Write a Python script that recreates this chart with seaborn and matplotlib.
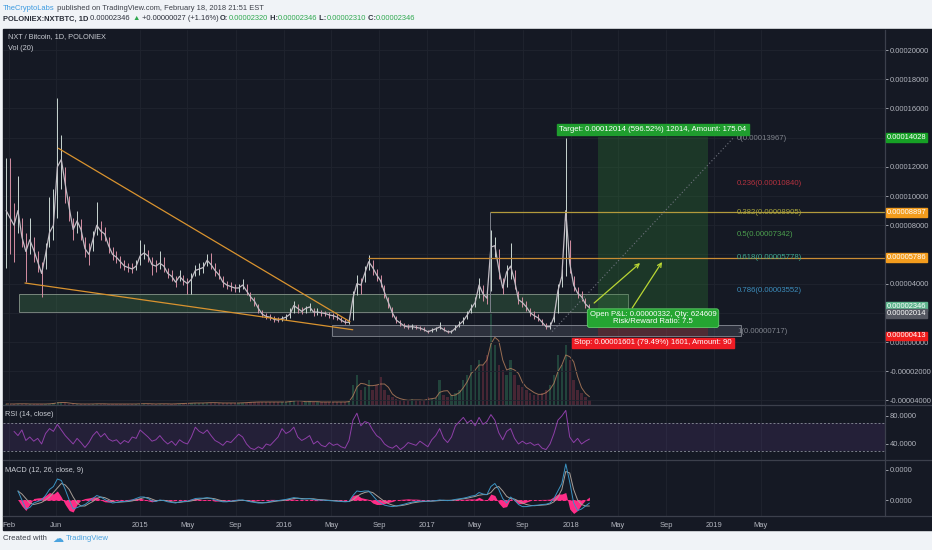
import numpy as np
import pandas as pd
import seaborn as sns
import matplotlib.pyplot as plt
from matplotlib.patches import Rectangle
from matplotlib.lines import Line2D
from matplotlib.transforms import blended_transform_factory

# ---------------- data (prices in satoshi) ----------------
dates = pd.date_range("2014-01-24", "2018-02-18", periods=149)

close_sat = [
    9000, 8500, 8000, 9000, 7200, 6200, 7000, 6300, 5500, 4700,
    6000, 7500, 8000, 12000, 12500, 10800, 9200, 7700, 8300, 7700,
    6400, 6000, 7000, 8000, 7600, 7400, 6600, 6000, 5800, 5500,
    5200, 5100, 5000, 5200, 5900, 6100, 5900, 5300, 5200, 5400,
    5200, 4700, 4500, 4100, 4500, 4200, 4000, 4300, 4900, 5000,
    5100, 5600, 5300, 4900, 4600, 4100, 3900, 3800, 3700, 3700,
    3900, 3500, 3100, 2800, 2300, 1900, 1750, 1700, 1550, 1500,
    1600, 1700, 1900, 2500, 2300, 2100, 2300, 2400, 2050, 2050,
    2000, 1950, 1850, 1800, 1700, 1500, 1350, 1350, 3000, 4000,
    3900, 4700, 5500, 5100, 4600, 4200, 3400, 2700, 2000, 1500,
    1300, 1100, 1030, 1050, 1000, 950, 850, 700, 800, 900,
    1030, 850, 700, 700, 950, 1200, 1450, 1850, 2300, 2700,
    3900, 3300, 3000, 6500, 6600, 5000, 3700, 4800, 5200, 4200,
    2900, 2700, 2400, 2000, 1800, 1650, 1350, 1050, 1050, 1700,
    3500, 4500, 9000, 5400, 3900, 3350, 3100, 2600, 2346,
]
high_sat = [
    12600, 12600, 9500, 11400, 8500, 7500, 8500, 7200, 6200, 5500,
    6800, 9900, 10500, 16700, 14200, 12000, 10000, 8500, 9000, 8400,
    7200, 6800, 7600, 9600, 8300, 7900, 7200, 6500, 6200, 5900,
    5600, 5400, 5400, 5600, 7000, 6700, 6300, 5800, 5600, 6200,
    5800, 5100, 4900, 4500, 4900, 4600, 4400, 4700, 5300, 5400,
    5500, 6000, 6100, 5400, 5000, 4500, 4200, 4100, 4000, 4000,
    4300, 4000, 3400, 3100, 2600, 2200, 2000, 1900, 1750, 1700,
    1800, 1900, 2300, 2800, 2600, 2400, 2500, 2700, 2300, 2300,
    2200, 2150, 2050, 2000, 1900, 1700, 1550, 1600, 3500, 4600,
    4400, 5200, 5950, 5600, 5000, 4600, 3900, 3100, 2400, 1800,
    1500, 1300, 1200, 1250, 1150, 1100, 1000, 850, 950, 1050,
    1400, 1000, 850, 850, 1150, 1450, 1700, 2100, 2600, 3100,
    4400, 3900, 3400, 7700, 7200, 6400, 4400, 5300, 6800, 4900,
    3500, 3100, 2800, 2300, 2100, 1900, 1600, 1300, 1350, 2100,
    4000, 5000, 13967, 7000, 4500, 3800, 3500, 3000, 2600,
]
low_sat = [
    5100, 6000, 5500, 7500, 6500, 4100, 6000, 5500, 4800, 3100,
    5000, 6500, 7000, 8500, 10500, 9500, 8300, 7000, 7500, 7000,
    5800, 5300, 6200, 7300, 7000, 6900, 6100, 5600, 5400, 5100,
    4900, 4800, 4700, 4900, 5300, 5700, 5500, 4600, 4800, 5000,
    4800, 4400, 4200, 3800, 4200, 3900, 3300, 3300, 4500, 4600,
    4700, 5200, 5000, 4500, 4300, 3800, 3600, 3500, 3400, 3400,
    3600, 3200, 2800, 2500, 2000, 1700, 1550, 1500, 1400, 1350,
    1450, 1500, 1650, 2000, 2000, 1900, 2000, 2100, 1800, 1850,
    1800, 1750, 1650, 1600, 1500, 1350, 1200, 1200, 1500, 3200,
    3300, 4100, 4900, 4600, 4200, 3800, 3000, 2300, 1700, 1300,
    1100, 950, 900, 900, 880, 820, 720, 600, 680, 780,
    900, 720, 600, 600, 800, 1000, 1250, 1600, 2000, 2400,
    3000, 2800, 2600, 3500, 5800, 4300, 3300, 3800, 4300, 3600,
    2600, 2400, 2100, 1800, 1600, 1450, 1150, 900, 900, 1400,
    2000, 3800, 4500, 4700, 3500, 3000, 2800, 2300, 2200,
]
volume = [
    1, 1, 1, 1.5, 1, 1, 1, 1, 1, 1,
    1, 1.5, 2, 3, 2.5, 2, 1.5, 1, 1, 1,
    1, 1, 1, 1.5, 1, 1, 1, 1, 1, 1,
    1, 1, 1, 1, 1.5, 1.5, 1, 1, 1, 1.5,
    1, 1, 1, 1.5, 1.5, 1.5, 2, 2, 2, 2,
    2, 2.5, 2.5, 2, 2, 2, 2, 2, 2, 2,
    2.5, 2.5, 3, 3, 3, 3, 3, 3, 3, 3,
    3, 3, 4, 5, 4, 3, 3, 4, 3, 3,
    3, 3, 3, 3, 3, 3, 3, 4, 20, 30,
    15, 18, 25, 15, 20, 28, 15, 10, 8, 6,
    5, 5, 4, 6, 5, 4, 5, 8, 6, 7,
    25, 10, 8, 10, 12, 15, 25, 30, 40, 35,
    45, 40, 50, 93, 60, 40, 35, 30, 45, 30,
    20, 18, 15, 12, 10, 10, 12, 15, 20, 30,
    50, 40, 60, 45, 25, 15, 12, 8, 5,
]
rsi = [
    np.nan, np.nan, 58, 52, 60, 45, 50, 44, 48, 40,
    55, 62, 58, 68, 60, 52, 46, 40, 48, 42,
    35, 42, 52, 58, 50, 55, 47, 44, 46, 40,
    45, 42, 50, 48, 60, 55, 50, 44, 46, 52,
    45, 40, 44, 38, 46, 42, 40, 50, 64, 58,
    55, 60, 52, 45, 42, 38, 44, 42, 48, 54,
    50, 40, 34, 32, 36, 33, 40, 38, 44, 50,
    62, 55, 58, 64, 50, 45, 48, 52, 40, 44,
    38, 36, 42, 38, 40, 36, 34, 45, 74, 84,
    66, 72, 70, 60, 52, 48, 40, 36, 34, 38,
    32, 36, 42, 40, 38, 44, 40, 36, 46, 52,
    62, 48, 42, 50, 66, 72, 78, 70, 74, 66,
    78, 68, 72, 82, 74, 56, 46, 58, 62, 48,
    40, 44, 40, 42, 38, 40, 34, 32, 40, 55,
    74, 80, 88, 50, 42, 48, 40, 44, 47,
]
# MACD in units of 1e-5 BTC
macd = [
    np.nan, np.nan, np.nan, 0.3, 0.0, -0.3, -0.25, -0.1, -0.05, 0.0,
    0.15, 0.35, 0.45, 0.7, 0.65, 0.35, 0.0, -0.3, -0.25, -0.2,
    -0.15, -0.05, 0.05, 0.15, 0.1, 0.02, -0.05, -0.1, -0.08, -0.05,
    -0.05, -0.03, 0.0, 0.05, 0.1, 0.1, 0.05, -0.03, -0.05, 0.0,
    -0.02, -0.06, -0.08, -0.1, -0.06, -0.05, -0.04, 0.0, 0.05, 0.06,
    0.06, 0.08, 0.05, 0.0, -0.03, -0.06, -0.06, -0.04, -0.02, 0.0,
    0.0, -0.03, -0.06, -0.08, -0.1, -0.1, -0.08, -0.05, -0.03, -0.02,
    0.0, 0.02, 0.05, 0.08, 0.06, 0.03, 0.04, 0.05, 0.02, 0.0,
    0.0, -0.01, -0.02, -0.03, -0.04, -0.05, -0.06, -0.05, 0.15, 0.3,
    0.28, 0.3, 0.3, 0.15, 0.0, -0.1, -0.17, -0.2, -0.22, -0.2,
    -0.17, -0.14, -0.1, -0.07, -0.05, -0.04, -0.04, -0.04, -0.03, -0.02,
    0.0, -0.01, -0.02, -0.01, 0.02, 0.04, 0.06, 0.09, 0.13, 0.15,
    0.25, 0.2, 0.18, 0.45, 0.55, 0.35, 0.05, -0.1, 0.1, 0.0,
    -0.15, -0.22, -0.22, -0.2, -0.18, -0.17, -0.15, -0.14, -0.1, 0.05,
    0.3, 0.55, 1.2, 0.6, -0.1, -0.35, -0.3, -0.2, -0.1,
]
signal = [
    np.nan, np.nan, np.nan, 0.3, 0.2, 0.05, -0.1, -0.15, -0.12, -0.08,
    0.0, 0.1, 0.25, 0.4, 0.55, 0.5, 0.35, 0.1, -0.1, -0.2,
    -0.2, -0.12, -0.05, 0.05, 0.1, 0.08, 0.02, -0.05, -0.08, -0.07,
    -0.06, -0.05, -0.03, 0.0, 0.04, 0.08, 0.08, 0.03, -0.02, -0.02,
    -0.01, -0.03, -0.06, -0.08, -0.08, -0.06, -0.05, -0.03, 0.0, 0.03,
    0.05, 0.06, 0.06, 0.04, 0.0, -0.03, -0.05, -0.05, -0.04, -0.02,
    -0.01, -0.02, -0.04, -0.06, -0.08, -0.09, -0.09, -0.07, -0.05, -0.03,
    -0.02, 0.0, 0.02, 0.05, 0.06, 0.05, 0.04, 0.04, 0.04, 0.02,
    0.01, 0.0, -0.01, -0.02, -0.03, -0.04, -0.05, -0.05, 0.0, 0.12,
    0.2, 0.25, 0.28, 0.25, 0.15, 0.05, -0.05, -0.12, -0.17, -0.2,
    -0.19, -0.17, -0.14, -0.1, -0.08, -0.06, -0.05, -0.04, -0.04, -0.03,
    -0.02, -0.01, -0.01, -0.01, 0.0, 0.02, 0.04, 0.06, 0.09, 0.12,
    0.16, 0.18, 0.18, 0.25, 0.4, 0.45, 0.3, 0.12, 0.05, 0.03,
    -0.03, -0.1, -0.15, -0.18, -0.19, -0.18, -0.17, -0.16, -0.13, -0.06,
    0.1, 0.35, 0.95, 0.9, 0.35, 0.0, -0.15, -0.2, -0.2,
]

tick_dates = ["2014-02-01", "2014-06-01", "2015-01-01", "2015-05-01", "2015-09-01",
              "2016-01-01", "2016-05-01", "2016-09-01", "2017-01-01", "2017-05-01",
              "2017-09-01", "2018-01-01", "2018-05-01", "2018-09-01", "2019-01-01",
              "2019-05-01"]
tick_labels = ["Feb", "Jun", "2015", "May", "Sep", "2016", "May", "Sep", "2017",
               "May", "Sep", "2018", "May", "Sep", "2019", "May"]

# drawings (dates, satoshi)
trend_upper_dates = ["2014-06-06", "2016-06-18"]
trend_upper_sat = [13270, 1390]
trend_lower_dates = ["2014-03-13", "2016-06-25"]
trend_lower_sat = [4040, 840]
box_upper = ("2014-02-25", "2018-05-26", 2055, 3290)
box_lower = ("2016-05-03", "2019-03-11", 413, 1165)
hline_dates = ["2017-06-10", "2016-08-03"]
hline_sat = [8897, 5786]
fib_levels = ["0", "0.236", "0.382", "0.5", "0.618", "0.786", "1"]
fib_sat = [13967, 10840, 8905, 7342, 5778, 3552, 717]
fib_line_dates = ["2017-11-15", "2019-02-19"]
fib_label_date = "2019-03-01"
pos_dates = ["2018-03-12", "2018-12-17"]
entry_sat, target_sat, stop_sat = 2014, 14028, 413
arrow_from = [("2018-03-02", 2670), ("2018-06-07", 2330)]
arrow_to = [("2018-06-27", 5410), ("2018-08-22", 5480)]
# price-scale markers: level, colour, small nudge (points) so stacked ones stay readable
axis_marks = [(14028, "#16a025", 0), (8897, "#f39c1d", 0), (5786, "#f39c1d", 0),
              (2346, "#5fb58e", 1.0), (2014, "#555862", -0.8), (413, "#f01c1c", 0)]
hidden_ticks = [14000, 6000, 2000]   # covered by the markers on the price scale

SAT = 1e-8
BG = "#151924"
GRID = "#20242f"
TXT = "#b2b5be"
SEP = "#3c404c"

sns.set_theme(style="dark", rc={
    "axes.facecolor": "none", "figure.facecolor": "#f0f3f7",
    "axes.edgecolor": SEP, "grid.color": GRID, "xtick.color": TXT,
    "ytick.color": TXT, "axes.labelcolor": TXT,
})
plt.rcParams["font.family"] = ["Liberation Sans", "DejaVu Sans"]
plt.rcParams["font.size"] = 5.4

W, H = 932, 550
fig = plt.figure(figsize=(W / 100, H / 100), dpi=100)
fig.add_artist(Rectangle((3 / W, 20 / H), 929 / W, 501 / H, transform=fig.transFigure,
                         color=BG, zorder=-5))

L, AW = 3 / W, 882 / W
axv = fig.add_axes([L, 145 / H, AW, 375 / H])
ax = fig.add_axes([L, 145 / H, AW, 375 / H], sharex=axv)
ax_rsi = fig.add_axes([L, 90 / H, AW, 55 / H], sharex=axv)
ax_macd = fig.add_axes([L, 34 / H, AW, 56 / H], sharex=axv)
axv.set_zorder(0)
ax.set_zorder(1)

close = np.array(close_sat) * SAT
high = np.array(high_sat) * SAT
low = np.array(low_sat) * SAT
up = np.r_[True, np.diff(close) >= 0]
df = pd.DataFrame({"date": dates, "close": close, "volume": volume,
                   "rsi": rsi, "macd": macd, "signal": signal})
df["vol_ma"] = df["volume"].rolling(3, min_periods=1).mean()
df["hist"] = df["macd"] - df["signal"]

# volume overlay
axv.bar(df["date"], df["volume"], width=6,
        color=np.where(up, "#2f6f55", "#7a3344"), alpha=0.5, linewidth=0)
sns.lineplot(data=df, x="date", y="vol_ma", ax=axv, color="#b9825e", linewidth=0.7, alpha=0.8)
axv.set_ylim(0, max(volume) * 375 / 93)
axv.axis("off")

# price
ax.vlines(df["date"], low, high, colors=np.where(up, "#c9d6d2", "#d48ea2"), linewidth=0.7)
sns.lineplot(data=df, x="date", y="close", ax=ax, color="#c2bcc4", linewidth=0.9)

xlim = (pd.Timestamp("2014-01-16"), pd.Timestamp("2020-03-12"))
ax.set_xlim(xlim)
ax.set_ylim(-4315 * SAT, 21372 * SAT)
yt_sat = list(range(-4000, 21000, 2000))
ax.set_yticks(np.array(yt_sat) * SAT)
ax.set_yticklabels(["" if v in hidden_ticks else f"{v * SAT:.8f}" for v in yt_sat])

# trend lines and boxes
ax.plot(pd.to_datetime(trend_upper_dates), np.array(trend_upper_sat) * SAT, color="#d9932f", lw=0.9)
ax.plot(pd.to_datetime(trend_lower_dates), np.array(trend_lower_sat) * SAT, color="#d9932f", lw=0.9)
for (d0, d1, p0, p1), fc, ec in [(box_upper, "#3f7a4c", "#8d9a90"), (box_lower, "#5a5f6d", "#8f939c")]:
    t0, t1 = pd.Timestamp(d0), pd.Timestamp(d1)
    ax.add_patch(Rectangle((t0, p0 * SAT), t1 - t0, (p1 - p0) * SAT,
                           facecolor=fc, alpha=0.35, edgecolor="none"))
    ax.add_patch(Rectangle((t0, p0 * SAT), t1 - t0, (p1 - p0) * SAT,
                           facecolor="none", edgecolor=ec, lw=0.7, alpha=0.8))
for d, p, c in zip(hline_dates, hline_sat, ["#b39a3c", "#c98c34"]):
    ax.hlines(p * SAT, pd.Timestamp(d), xlim[1], color=c, lw=0.9)
ax.vlines(pd.Timestamp(hline_dates[0]), box_upper[2] * SAT, hline_sat[0] * SAT, color="#7c808a", lw=0.7)

# long position tool
p0, p1 = pd.Timestamp(pos_dates[0]), pd.Timestamp(pos_dates[1])
ax.add_patch(Rectangle((p0, entry_sat * SAT), p1 - p0, (target_sat - entry_sat) * SAT,
                       facecolor="#2e7d32", alpha=0.3, edgecolor="none"))
ax.add_patch(Rectangle((p0, stop_sat * SAT), p1 - p0, (entry_sat - stop_sat) * SAT,
                       facecolor="#b71c1c", alpha=0.25, edgecolor="none"))
mid = p0 + (p1 - p0) / 2
ax.annotate("Target: 0.00012014 (596.52%) 12014, Amount: 175.04", (mid, target_sat * SAT),
            xytext=(0, 3), textcoords="offset points", ha="center", va="bottom",
            color="white", fontsize=5.6, zorder=12,
            bbox=dict(boxstyle="square,pad=0.25", fc="#1f9d2e", ec="#1f9d2e"))
ax.annotate("Stop: 0.00001601 (79.49%) 1601, Amount: 90", (mid, stop_sat * SAT),
            xytext=(0, -2.5), textcoords="offset points", ha="center", va="top",
            color="white", fontsize=5.6, zorder=12,
            bbox=dict(boxstyle="square,pad=0.25", fc="#ee1c24", ec="#ee1c24"))
ax.annotate("Open P&L: 0.00000332, Qty: 624609\nRisk/Reward Ratio: 7.5", (mid, entry_sat * SAT),
            xytext=(0, -4), textcoords="offset points", ha="center", va="center",
            color="white", fontsize=5.6, linespacing=1.0, zorder=12,
            bbox=dict(boxstyle="round,pad=0.3,rounding_size=0.3", fc="#25a532", ec="#5fcf6a", lw=0.6))

# fib retracement
ax.plot(pd.to_datetime(fib_line_dates), np.array([fib_sat[-1], fib_sat[0]]) * SAT,
        color="#6f737e", lw=0.8, ls=(0, (1, 2)))
fib_colors = ["#7f838c", "#b5323f", "#a8a53d", "#4c9f4e", "#3aa88e", "#3c8dbc", "#7f838c"]
for lev, p, c in zip(fib_levels, fib_sat, fib_colors):
    ax.text(pd.Timestamp(fib_label_date), p * SAT, f"{lev}({p * SAT:.8f})", color=c,
            fontsize=5.6, ha="left", va="center", zorder=11)

for (d0, s0), (d1, s1) in zip(arrow_from, arrow_to):
    ax.annotate("", xy=(pd.Timestamp(d1), s1 * SAT), xytext=(pd.Timestamp(d0), s0 * SAT),
                arrowprops=dict(arrowstyle="->", color="#b9d634", lw=0.9,
                                shrinkA=0, shrinkB=0, mutation_scale=7), zorder=11)

# coloured labels on the price scale
tr = blended_transform_factory(ax.transAxes, ax.transData)
for p, c, dy in axis_marks:
    ax.annotate(f"{p * SAT:.8f}", (1, p * SAT), xycoords=tr, xytext=(1.2, dy),
                textcoords="offset points", ha="left", va="center", color="white",
                fontsize=5.4, annotation_clip=False, zorder=20,
                bbox=dict(boxstyle="square,pad=0.12", fc=c, ec=c))

# RSI
ax_rsi.axhspan(30, 70, color="#7b4bb0", alpha=0.15, lw=0)
for lvl in (30, 70):
    ax_rsi.axhline(lvl, color="#7c808c", lw=0.7, ls=(0, (2, 2)))
sns.lineplot(data=df.dropna(subset=["rsi"]), x="date", y="rsi", ax=ax_rsi,
             color="#8e3fa8", linewidth=0.7)
ax_rsi.set_ylim(17.1, 95.7)
ax_rsi.set_yticks([40, 80])
ax_rsi.set_yticklabels(["40.0000", "80.0000"])

# MACD
dm = df.dropna(subset=["macd"])
ax_macd.hlines(0, dm["date"].iloc[0], dm["date"].iloc[-1], color="#ff2d87", lw=0.7, ls=(0, (3, 2)))
ax_macd.fill_between(dm["date"], dm["hist"], 0, color="#ff2d87", lw=0)
sns.lineplot(data=dm, x="date", y="signal", ax=ax_macd, color="#a89e96", linewidth=0.7)
sns.lineplot(data=dm, x="date", y="macd", ax=ax_macd, color="#3b93c2", linewidth=0.7)
ax_macd.set_ylim(-0.533, 1.333)
ax_macd.set_yticks([0, 1])
ax_macd.set_yticklabels(["0.0000", "0.0000"])

ax_macd.set_xticks(pd.to_datetime(tick_dates))
ax_macd.set_xticklabels(tick_labels)

for a in (ax, ax_rsi, ax_macd):
    a.yaxis.tick_right()
    a.grid(True, color=GRID, lw=0.6)
    a.set_axisbelow(True)
    a.set_xlabel("")
    a.set_ylabel("")
    a.tick_params(axis="y", length=2, width=0.6, pad=1.2, labelsize=5.4, colors=TXT)
    a.tick_params(axis="x", length=0, pad=4, labelsize=5.4, colors=TXT)
    for s in ("left", "top", "bottom"):
        a.spines[s].set_visible(False)
    a.spines["right"].set_color(SEP)
    a.spines["right"].set_linewidth(0.9)
for a in (ax, ax_rsi):
    a.tick_params(axis="x", labelbottom=False)
ax_rsi.grid(False, axis="y")
ax_macd.grid(False, axis="y")

# pane separators
for y in (405, 460, 516):
    fig.add_artist(Line2D([3 / W, 1], [1 - y / H] * 2, transform=fig.transFigure,
                          color=SEP, lw=0.9, zorder=5))

# texts
hdr = fig.add_axes([0, 0, 1, 1])
hdr.set_zorder(30)
hdr.axis("off")


def text_row(parts, x, y):
    prev = None
    for s, color, weight in parts:
        if prev is None:
            prev = hdr.annotate(s, (x / W, 1 - y / H), xycoords="figure fraction",
                                color=color, fontweight=weight, fontsize=5.4,
                                ha="left", va="baseline")
        else:
            prev = hdr.annotate(s, (1, 0), xycoords=prev, color=color, fontweight=weight,
                                fontsize=5.4, ha="left", va="bottom")


GREEN = "#2fa84f"
DARK = "#2a2e39"
text_row([("TheCryptoLabs", "#3d9be0", "normal"),
          (" published on TradingView.com, February 18, 2018 21:51 EST", "#3b3f48", "normal")], 3, 9.5)
text_row([("POLONIEX:NXTBTC, 1D", DARK, "bold"), (" 0.00002346 ", DARK, "normal"),
          ("▲", GREEN, "normal"), (" +0.00000027 (+1.16%) ", DARK, "normal"),
          ("O:", DARK, "bold"), ("0.00002320", GREEN, "normal"),
          (" H:", DARK, "bold"), ("0.00002346", GREEN, "normal"),
          (" L:", DARK, "bold"), ("0.00002310", GREEN, "normal"),
          (" C:", DARK, "bold"), ("0.00002346", GREEN, "normal")], 3, 20.5)
hdr.text(8 / W, 1 - 37 / H, "NXT / Bitcoin, 1D, POLONIEX", color="#c9ccd3", fontsize=5.3, va="center")
hdr.text(8 / W, 1 - 49 / H, "Vol (20)", color="#c9ccd3", fontsize=5.3, va="center")
hdr.text(5 / W, 1 - 414 / H, "RSI (14, close)", color="#c9ccd3", fontsize=5.3, va="center")
hdr.text(5 / W, 1 - 470 / H, "MACD (12, 26, close, 9)", color="#c9ccd3", fontsize=5.3, va="center")
hdr.text(3 / W, 1 - 539 / H, "Created with", color="#3b3f48", fontsize=5.6, va="center")
hdr.text(52 / W, 1 - 539 / H, "☁", color="#4aa3df", fontsize=8, va="center",
         family=["DejaVu Sans"])
hdr.text(66 / W, 1 - 539 / H, "TradingView", color="#4aa3df", fontsize=5.6, va="center")

fig.savefig("out.png", dpi=100)
